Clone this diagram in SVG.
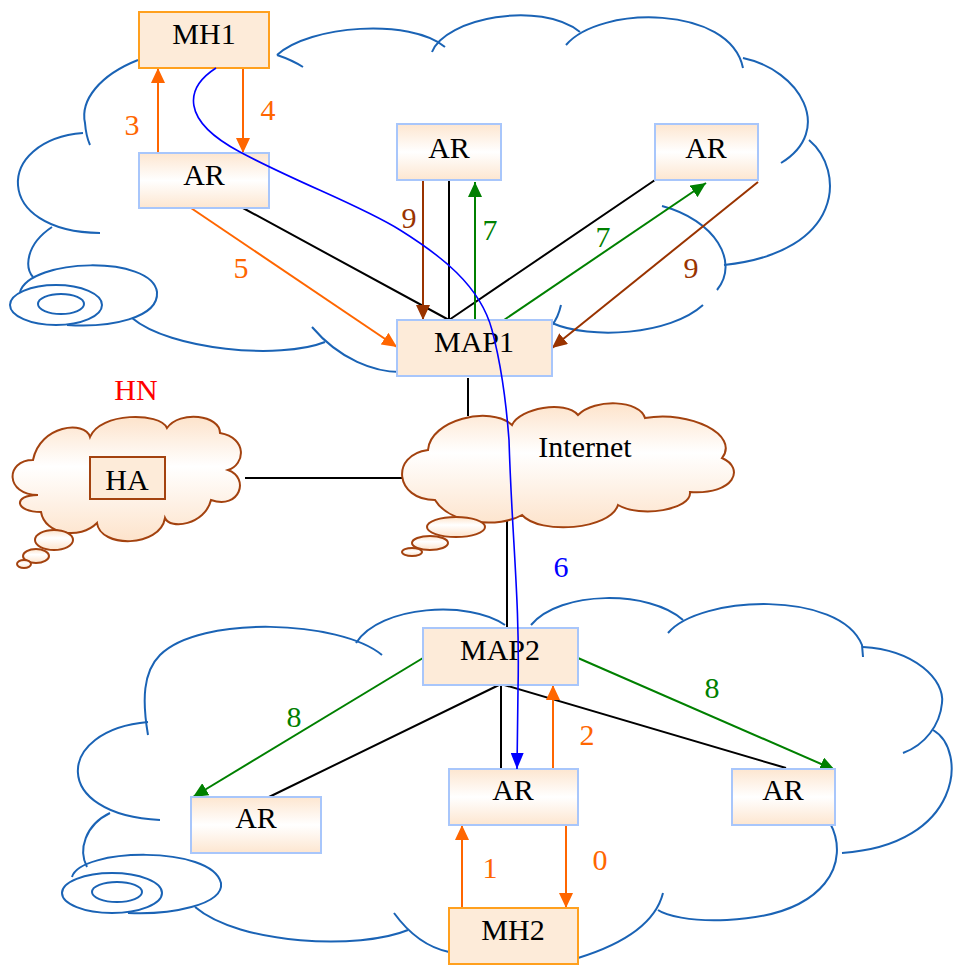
<svg xmlns="http://www.w3.org/2000/svg" width="956" height="965" viewBox="0 0 956 965">
<defs>
<linearGradient id="gAR" x1="0" y1="0" x2="0" y2="1">
<stop offset="0" stop-color="#fde6d0"/><stop offset="0.5" stop-color="#ffffff"/><stop offset="1" stop-color="#fde6d0"/>
</linearGradient>
<linearGradient id="gCloud" x1="0" y1="0" x2="0" y2="1">
<stop offset="0" stop-color="#fde3cb"/><stop offset="0.4" stop-color="#ffffff"/><stop offset="1" stop-color="#fde3cb"/>
</linearGradient>
<marker id="aO" viewBox="0 0 15 14" refX="15" refY="7" markerWidth="15" markerHeight="14" markerUnits="userSpaceOnUse" orient="auto"><path d="M0,0 L15,7 L0,14 z" fill="#ff6600"/></marker>
<marker id="aB" viewBox="0 0 15 14" refX="15" refY="7" markerWidth="15" markerHeight="14" markerUnits="userSpaceOnUse" orient="auto"><path d="M0,0 L15,7 L0,14 z" fill="#993300"/></marker>
<marker id="aG" viewBox="0 0 15 14" refX="15" refY="7" markerWidth="15" markerHeight="14" markerUnits="userSpaceOnUse" orient="auto"><path d="M0,0 L15,7 L0,14 z" fill="#008000"/></marker>
<marker id="aBl" viewBox="0 0 16 13" refX="16" refY="6.5" markerWidth="16" markerHeight="13" markerUnits="userSpaceOnUse" orient="auto"><path d="M0,0 L16,6.5 L0,13 z" fill="#0000ff"/></marker>
</defs>
<style>
.cl{fill:none;stroke:#1a63b5;stroke-width:2}
.bc{fill:url(#gCloud);stroke:#a3420f;stroke-width:2}
.ar{fill:url(#gAR);stroke:#a8c6fb;stroke-width:2}
.map{fill:#fdebd9;stroke:#a8c6fb;stroke-width:2}
.mh{fill:#fdebd9;stroke:#ffa01e;stroke-width:2}
.t{font-family:"Liberation Serif","Times New Roman",serif;font-size:30px;text-anchor:middle;fill:#000}
.k{stroke:#000;stroke-width:2;fill:none}
.o{stroke:#ff6600;stroke-width:2;fill:none;marker-end:url(#aO)}
.b{stroke:#993300;stroke-width:2;fill:none;marker-end:url(#aB)}
.g{stroke:#008000;stroke-width:2;fill:none;marker-end:url(#aG)}
.lo{fill:#ff6600}.lb{fill:#993300}.lg{fill:#008000}
</style>

<g id="cloud-top">
<path class="cl" d="M277,55 C310,25 410,18 445,47"/>
<path class="cl" d="M277,55 Q292,60 303,67"/>
<path class="cl" d="M432,52 C445,18 540,0 580,32"/>
<path class="cl" d="M566,45 C600,5 730,5 743,68"/>
<path class="cl" d="M743,58 C800,70 835,130 781,163"/>
<path class="cl" d="M809,140 C845,170 845,252 724,265"/>
<path class="cl" d="M662,206 C715,220 740,262 717,290"/>
<path class="cl" d="M703,305 C670,335 590,340 552,323"/>
<path class="cl" d="M561,305 Q558,318 552,325"/>
<path class="cl" d="M312,327 C340,360 375,372 400,372"/>
<path class="cl" d="M132,318 C170,350 280,360 325,342"/>
<path class="cl" d="M20,292 C30,258 152,255 157,292 C159,318 110,328 67,325"/>
<ellipse class="cl" cx="56" cy="305" rx="46" ry="20"/>
<ellipse class="cl" cx="61" cy="304" rx="23" ry="10"/>
<path class="cl" d="M52,227 C25,245 25,268 33,277"/>
<path class="cl" d="M83,133 C-5,140 -8,232 100,233"/>
<path class="cl" d="M138,60 C100,75 80,100 85,123 Q86,136 90,145"/>
</g>

<g id="cloud-bottom">
<path class="cl" d="M382,655 C340,620 200,615 160,655 C143,672 142,700 148,735"/>
<path class="cl" d="M356,643 C380,605 470,600 505,625"/>
<path class="cl" d="M531,625 C560,590 650,590 683,620"/>
<path class="cl" d="M668,633 C700,595 840,590 862,645 L863,657"/>
<path class="cl" d="M863,647 C915,650 945,680 942,703 C940,725 925,745 903,753"/>
<path class="cl" d="M933,730 C968,750 962,845 842,853"/>
<path class="cl" d="M830,823 C850,860 830,915 727,920 C690,922 665,915 658,910"/>
<path class="cl" d="M578,958 C620,945 655,925 663,893"/>
<path class="cl" d="M394,913 C410,935 430,948 449,952"/>
<path class="cl" d="M195,907 C240,945 360,950 408,930"/>
<path class="cl" d="M72,877 C80,848 212,845 221,883 C224,905 170,915 128,913"/>
<ellipse class="cl" cx="112" cy="893" rx="50" ry="20"/>
<ellipse class="cl" cx="117" cy="892" rx="25" ry="10"/>
<path class="cl" d="M110,813 C85,825 78,850 87,867"/>
<path class="cl" d="M148,722 C55,730 50,815 160,820"/>
</g>

<g id="connectors">
<path class="k" d="M243,208 L449,320 M449,180 L449,320 M655,180 L449,320"/>
<path class="k" d="M468,378 L468,416 M507,517 L507,628 M245,478 L402,478"/>
<path class="k" d="M269,797 L501,684 M501,684 L501,768 M501,684 L786,768"/>
<path class="o" d="M158,153 L158,68"/>
<path class="o" d="M243,68 L243,153"/>
<path class="o" d="M191,208 L397,347"/>
<path class="b" d="M423,180 L423,320"/>
<path class="b" d="M758,182 L552,348"/>
<path class="g" d="M475,320 L475,182"/>
<path class="g" d="M501,322 L706,183"/>
<path class="g" d="M423,658 L193,797"/>
<path class="g" d="M578,658 L835,770"/>
<path class="o" d="M553,769 L553,685"/>
<path class="o" d="M462,908 L462,825"/>
<path class="o" d="M566,825 L566,908"/>
</g>

<g id="labels">
<text class="t lo" x="132" y="135">3</text>
<text class="t lo" x="268" y="120">4</text>
<text class="t lo" x="241" y="278">5</text>
<text class="t lb" x="409" y="228">9</text>
<text class="t lg" x="490" y="240">7</text>
<text class="t lg" x="603" y="247">7</text>
<text class="t lb" x="691" y="278">9</text>
<text class="t" x="561" y="577" style="fill:#0000ff">6</text>
<text class="t lg" x="294" y="727">8</text>
<text class="t lg" x="712" y="698">8</text>
<text class="t lo" x="587" y="745">2</text>
<text class="t lo" x="490" y="878">1</text>
<text class="t lo" x="600" y="870">0</text>
<text class="t" x="136" y="400" style="fill:#ff0000">HN</text>
</g>

<g id="HN-cloud">
<path class="bc" d="M38,495 C5,495 5,460 33,460 C40,425 85,420 90,437 C100,412 160,412 167,428 C180,410 220,415 220,433 C248,438 245,465 228,470 C250,478 240,510 211,500 C205,525 170,530 165,518 C160,548 100,548 97,523 C80,540 45,535 41,512 C15,512 12,495 38,495 Z"/>
<ellipse class="bc" cx="54" cy="540" rx="19" ry="10"/>
<ellipse class="bc" cx="36" cy="556" rx="13" ry="7"/>
<ellipse class="bc" cx="24" cy="564" rx="7" ry="4"/>
</g>
<g id="HA">
<rect x="90" y="457" width="75" height="42" fill="#fdebd9" stroke="#a3420f" stroke-width="2"/>
<text class="t" x="127" y="490">HA</text>
</g>

<g id="Internet">
<path class="bc" d="M435,500 C395,500 390,455 428,450 C430,420 490,405 512,425 C520,408 565,400 578,415 C595,398 640,400 645,418 C690,410 740,435 722,458 C745,468 735,495 690,492 C692,510 640,518 618,505 C610,530 540,535 522,515 C500,528 450,525 435,500 Z"/>
<ellipse class="bc" cx="456" cy="527" rx="29" ry="10"/>
<ellipse class="bc" cx="430" cy="543" rx="18" ry="7"/>
<ellipse class="bc" cx="412" cy="552" rx="10" ry="4"/>
<text class="t" x="585" y="457">Internet</text>
</g>

<g id="MH1"><rect class="mh" x="139" y="12" width="130" height="56"/><text class="t" x="204" y="44">MH1</text></g>
<g id="AR-tl"><rect class="ar" x="139" y="153" width="130" height="55"/><text class="t" x="204" y="185">AR</text></g>
<g id="AR-tm"><rect class="ar" x="397" y="124" width="104" height="56"/><text class="t" x="449" y="158">AR</text></g>
<g id="AR-tr"><rect class="ar" x="655" y="124" width="103" height="56"/><text class="t" x="706" y="158">AR</text></g>
<g id="MAP1"><rect class="map" x="397" y="320" width="155" height="56"/><text class="t" x="474" y="352">MAP1</text></g>
<g id="MAP2"><rect class="map" x="423" y="628" width="155" height="57"/><text class="t" x="500" y="660">MAP2</text></g>
<g id="AR-bl"><rect class="ar" x="191" y="797" width="130" height="56"/><text class="t" x="256" y="828">AR</text></g>
<g id="AR-bm"><rect class="ar" x="449" y="769" width="129" height="56"/><text class="t" x="513" y="800">AR</text></g>
<g id="AR-br"><rect class="ar" x="732" y="769" width="103" height="56"/><text class="t" x="783" y="800">AR</text></g>
<g id="MH2"><rect class="mh" x="449" y="908" width="129" height="56"/><text class="t" x="513" y="940">MH2</text></g>

<g id="connector-6">
<path d="M216,68 C185,88 180,120 240,152 C300,184 360,205 400,230 C440,255 480,285 492,330 C500,360 506,400 509,440 C512,540 520,600 518,690 L517,769" fill="none" stroke="#0000ff" stroke-width="1.6" marker-end="url(#aBl)"/>
</g>
</svg>
